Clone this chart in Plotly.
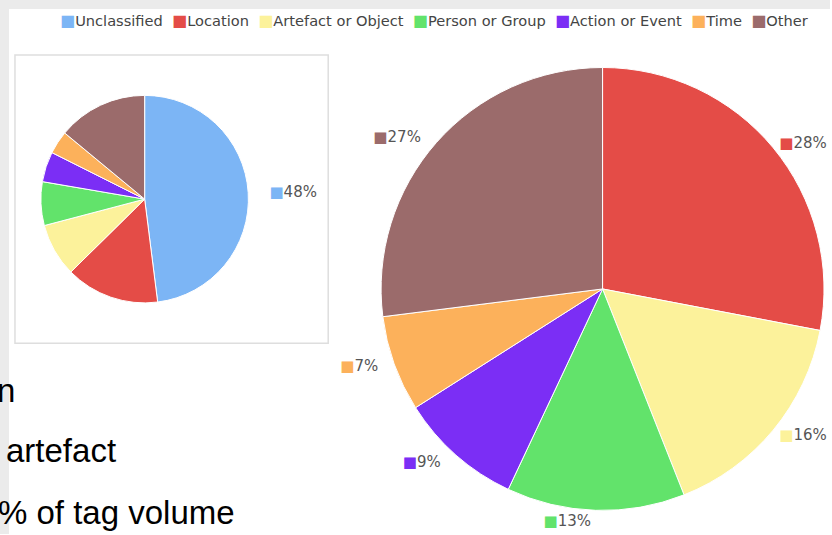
import math
import plotly.graph_objects as go

# ---- data ----
categories = ["Unclassified", "Location", "Artefact or Object", "Person or Group",
              "Action or Event", "Time", "Other"]
colors = ["#7cb5f5", "#e44c47", "#fcf29b", "#62e36b", "#7b2ef5", "#fcb15b", "#9b6b6b"]
all_tags_pct = [48, 14.6, 8.3, 6.8, 4.7, 3.6, 14.0]          # small pie (all tags)
classified_categories = categories[1:]
classified_colors = colors[1:]
classified_pct = [28, 16, 13, 9, 7, 27]                       # big pie (classified only)
slide_text = ["n", "artefact", "% of tag volume"]

W, H = 832, 535
NB = "\u00a0"


def fx(x):
    return x / W


def fy(y):
    return 1 - y / H


def domain(cx, cy, r):
    return dict(x=[fx(cx - r), fx(cx + r)], y=[fy(cy + r), fy(cy - r)])


def mid_sin(vals):
    total = float(sum(vals))
    out, acc = [], 0.0
    for v in vals:
        out.append(math.sin((acc + v / 2) / total * 2 * math.pi))
        acc += v
    return out


def sq_label(color, v, s, pad_right=0, pad_left=0):
    core = f'<span style="color:{color};font-size:15px">■</span>{v:.0f}%'
    if s > 0.5:
        return NB * pad_right + core
    if s < -0.5:
        return core + NB * pad_left
    return core


# small pie: only the Unclassified share is labelled
small_sin = mid_sin(all_tags_pct)
small_text = [sq_label(colors[0], all_tags_pct[0], small_sin[0], pad_right=1)] + [""] * (len(categories) - 1)

big_sin = mid_sin(classified_pct)
big_text = [sq_label(c, v, s, pad_left=2) for c, v, s in zip(classified_colors, classified_pct, big_sin)]

label_font = dict(family="DejaVu Sans", size=15, color="#555555")
clear = "rgba(0,0,0,0)"

fig = go.Figure()


def carrier(labels, values, text, dom):
    return go.Pie(
        labels=labels, values=values, sort=False, direction="clockwise", rotation=0,
        marker=dict(colors=[clear] * len(labels), line=dict(width=0)),
        text=text, textinfo="text", textposition="outside", outsidetextfont=label_font,
        domain=dom, showlegend=False, hoverinfo="skip",
    )


# transparent label rings, slightly larger than the pies
fig.add_trace(carrier(categories, all_tags_pct, small_text, domain(145, 199.5, 116)))
fig.add_trace(carrier(classified_categories, classified_pct, big_text, domain(604, 289.5, 224)))

# visible pies
fig.add_trace(go.Pie(
    labels=categories, values=all_tags_pct, sort=False, direction="clockwise", rotation=0,
    marker=dict(colors=colors, line=dict(color="#ffffff", width=1)),
    textinfo="none", domain=domain(145, 199.5, 104),
    showlegend=False, hoverinfo="label+percent",
))
fig.add_trace(go.Pie(
    labels=classified_categories, values=classified_pct, sort=False, direction="clockwise", rotation=0,
    marker=dict(colors=classified_colors, line=dict(color="#ffffff", width=1)),
    textinfo="none", domain=domain(604, 289.5, 222),
    showlegend=False, hoverinfo="label+percent",
))

# legend row drawn as text
legend_str = "  ".join(
    f'<span style="color:{c};font-size:16px">■</span>{lab}' for lab, c in zip(categories, colors)
)

annotations = [dict(
    text=legend_str, x=fx(58), y=fy(21), xref="paper", yref="paper",
    xanchor="left", yanchor="middle", showarrow=False,
    font=dict(family="DejaVu Sans", size=14.6, color="#444444"),
)]

slide_pos = [(17, 391), (118, 451), (238, 513)]
for t, (xr, yc) in zip(slide_text, slide_pos):
    annotations.append(dict(
        text=t, x=fx(xr), y=fy(yc), xref="paper", yref="paper",
        xanchor="right", yanchor="middle", showarrow=False,
        font=dict(family="Liberation Sans", size=33, color="#000000"),
    ))

shapes = [
    dict(type="rect", xref="paper", yref="paper", x0=0, x1=1, y0=fy(9), y1=1,
         fillcolor="#ebebeb", line=dict(width=0), layer="below"),
    dict(type="rect", xref="paper", yref="paper", x0=0, x1=fx(9), y0=0, y1=1,
         fillcolor="#ebebeb", line=dict(width=0), layer="below"),
    dict(type="rect", xref="paper", yref="paper", x0=fx(15), x1=fx(329), y0=fy(344), y1=fy(55),
         fillcolor="#ffffff", line=dict(color="#dedede", width=1.5), layer="below"),
]

fig.update_layout(
    width=W, height=H, margin=dict(l=0, r=0, t=0, b=0),
    paper_bgcolor="#ffffff", plot_bgcolor="#ffffff",
    annotations=annotations, shapes=shapes, showlegend=False,
)

fig.write_html(
    "out.html",
    config={"displayModeBar": False, "responsive": False},
    post_script="document.body.style.margin='0';document.body.style.overflow='hidden';",
)
